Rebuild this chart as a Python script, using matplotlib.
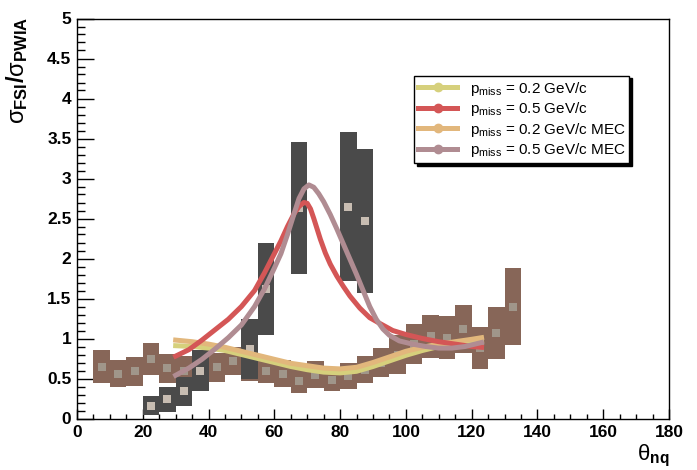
import matplotlib
matplotlib.use("Agg")
import matplotlib.pyplot as plt
from matplotlib.lines import Line2D
from matplotlib.ticker import MultipleLocator

plt.rcParams["font.family"] = ["Liberation Sans", "DejaVu Sans"]
plt.rcParams["mathtext.fontset"] = "custom"
plt.rcParams["mathtext.rm"] = "Liberation Sans"
plt.rcParams["mathtext.it"] = "Liberation Sans:italic"
plt.rcParams["mathtext.bf"] = "Liberation Sans:bold"

# Data set 1 (brown boxes): 5-degree bins
brown_theta = [7.5, 12.5, 17.5, 22.5, 27.5, 32.5, 37.5, 42.5, 47.5, 52.5,
               57.5, 62.5, 67.5, 72.5, 77.5, 82.5, 87.5, 92.5, 97.5, 102.5,
               107.5, 112.5, 117.5, 122.5, 127.5, 132.5]
brown_ratio = [0.65, 0.56, 0.59, 0.74, 0.63, 0.60, 0.62, 0.64, 0.72, 0.65,
               0.60, 0.56, 0.47, 0.55, 0.48, 0.53, 0.61, 0.70, 0.80, 0.93,
               1.03, 1.01, 1.12, 0.88, 1.07, 1.40]
brown_err = [0.21, 0.17, 0.18, 0.20, 0.18, 0.18, 0.18, 0.18, 0.18, 0.18,
             0.16, 0.17, 0.15, 0.17, 0.14, 0.16, 0.17, 0.18, 0.24, 0.25,
             0.27, 0.27, 0.30, 0.26, 0.33, 0.48]

# Data set 2 (dark boxes)
dark_theta = [22.5, 27.5, 32.5, 37.5, 52.5, 57.5, 67.5, 82.5, 87.5]
dark_ratio = [0.16, 0.24, 0.34, 0.60, 0.87, 1.62, 2.63, 2.65, 2.47]
dark_err = [0.12, 0.16, 0.18, 0.26, 0.38, 0.58, 0.82, 0.93, 0.90]

# Calculations
red_theta = [30, 34, 38, 42, 46, 50, 54, 57, 60, 62, 64, 66, 67.5, 69, 70,
             71, 72, 73, 74, 75.5, 77, 79, 81, 83, 86, 89, 92, 96, 100, 105,
             110, 115, 120, 123]
red_ratio = [0.78, 0.86, 0.98, 1.11, 1.24, 1.40, 1.60, 1.82, 2.06, 2.22, 2.40,
             2.56, 2.65, 2.70, 2.69, 2.62, 2.50, 2.37, 2.24, 2.07, 1.93, 1.78,
             1.65, 1.53, 1.38, 1.26, 1.19, 1.10, 1.05, 1.00, 0.96, 0.93, 0.90,
             0.89]

mauve_theta = [30, 34, 38, 42, 46, 50, 54, 57, 60, 62, 64, 66, 67.5, 69, 70.5,
               72, 73.5, 75, 77, 79, 81, 83, 85, 87, 89, 91, 93, 95, 98, 102,
               106, 110, 114, 118, 121, 123]
mauve_ratio = [0.54, 0.63, 0.74, 0.87, 1.01, 1.17, 1.40, 1.62, 1.88, 2.06,
               2.30, 2.56, 2.75, 2.87, 2.92, 2.89, 2.81, 2.71, 2.55, 2.37,
               2.18, 1.99, 1.80, 1.60, 1.40, 1.24, 1.12, 1.04, 0.97, 0.93,
               0.90, 0.88, 0.88, 0.90, 0.93, 0.95]

low_theta = [30, 35, 40, 45, 50, 55, 60, 65, 70, 75, 80, 85, 90, 95, 100,
             105, 110, 115, 120, 123]
yellow_ratio = [0.91, 0.90, 0.88, 0.85, 0.80, 0.75, 0.70, 0.65, 0.61, 0.58,
                0.57, 0.59, 0.65, 0.72, 0.79, 0.85, 0.90, 0.93, 0.96, 0.97]
orange_ratio = [0.98, 0.96, 0.93, 0.89, 0.84, 0.79, 0.74, 0.69, 0.66, 0.63,
                0.62, 0.64, 0.70, 0.77, 0.84, 0.89, 0.93, 0.96, 0.99, 1.01]

x_ticks = [0, 20, 40, 60, 80, 100, 120, 140, 160, 180]
y_ticks = [0, 0.5, 1, 1.5, 2, 2.5, 3, 3.5, 4, 4.5, 5]
y_tick_labels = ["0", "0.5", "1", "1.5", "2", "2.5", "3", "3.5", "4", "4.5", "5"]

BROWN = "#876658"
BROWN_MARK = "#a0968a"
DARK = "#4a4a4a"
DARK_MARK = "#c8bdb2"
YELLOW = "#d6d07c"
RED = "#d45656"
ORANGE = "#e2b77c"
MAUVE = "#b08c92"

fig = plt.figure(figsize=(6.97, 4.70), dpi=100)
ax = fig.add_axes([77 / 697, 51.5 / 470, 592 / 697, 400 / 470])

# brown boxes + markers
lo = [v - e for v, e in zip(brown_ratio, brown_err)]
ax.bar(brown_theta, [2 * e for e in brown_err], bottom=lo, width=5,
       color=BROWN, linewidth=0, zorder=2)
ax.plot(brown_theta, brown_ratio, "s", color=BROWN_MARK, ms=6, mew=0, zorder=3)

# dark boxes + markers
lo = [v - e for v, e in zip(dark_ratio, dark_err)]
ax.bar(dark_theta, [2 * e for e in dark_err], bottom=lo, width=5,
       color=DARK, linewidth=0, zorder=4)
ax.plot(dark_theta, dark_ratio, "s", color=DARK_MARK, ms=6, mew=0, zorder=5)

# curves
lw = 3.6
ax.plot(low_theta, yellow_ratio, color=YELLOW, lw=lw, zorder=6,
        solid_joinstyle="round")
ax.plot(red_theta, red_ratio, color=RED, lw=lw, zorder=7, solid_joinstyle="round")
ax.plot(low_theta, orange_ratio, color=ORANGE, lw=lw, zorder=6,
        solid_joinstyle="round")
ax.plot(mauve_theta, mauve_ratio, color=MAUVE, lw=lw, zorder=8,
        solid_joinstyle="round")

ax.set_xlim(0, 180)
ax.set_ylim(0, 5)
ax.set_xticks(x_ticks)
ax.set_xticklabels([str(t) for t in x_ticks])
ax.set_yticks(y_ticks)
ax.set_yticklabels(y_tick_labels)
ax.xaxis.set_minor_locator(MultipleLocator(5))
ax.yaxis.set_minor_locator(MultipleLocator(0.1))
ax.tick_params(which="both", direction="in", top=False, right=False,
               width=1.0, labelsize=12.5)
ax.tick_params(axis="x", which="major", length=7.2, pad=5)
ax.tick_params(axis="x", which="minor", length=3.6)
ax.tick_params(axis="y", which="major", length=12, pad=4)
ax.tick_params(axis="y", which="minor", length=5.8)
for lab in ax.get_xticklabels() + ax.get_yticklabels():
    lab.set_fontweight("bold")
for sp in ax.spines.values():
    sp.set_linewidth(1.0)

ax.set_ylabel(r"σ$_{\mathbf{FSI}}$$\mathbf{/}$σ$_{\mathbf{PWIA}}$",
              fontsize=17, loc="top")
ax.yaxis.set_label_coords(-0.079, 1.005)
ax.set_xlabel(r"θ$_{\mathbf{nq}}$", fontsize=16, loc="right")
ax.xaxis.set_label_coords(1.0, -0.062)

handles = [
    Line2D([], [], color=YELLOW, lw=lw, marker="o", ms=6),
    Line2D([], [], color=RED, lw=lw, marker="o", ms=6),
    Line2D([], [], color=ORANGE, lw=lw, marker="o", ms=6),
    Line2D([], [], color=MAUVE, lw=lw, marker="o", ms=6),
]
labels = [
    r"p$_{\mathrm{miss}}$ = 0.2 GeV/c",
    r"p$_{\mathrm{miss}}$ = 0.5 GeV/c",
    r"p$_{\mathrm{miss}}$ = 0.2 GeV/c MEC",
    r"p$_{\mathrm{miss}}$ = 0.5 GeV/c MEC",
]
leg = ax.legend(handles, labels, loc="upper left", bbox_to_anchor=(0.569, 0.857),
                borderaxespad=0, fontsize=11, numpoints=1, handlelength=2.6,
                handletextpad=0.8, labelspacing=0.17, borderpad=0.25,
                fancybox=False, framealpha=1, edgecolor="black",
                shadow={"color": "black", "alpha": 1})
leg.get_frame().set_linewidth(1.0)
leg.set_zorder(10)

fig.savefig("out.png", dpi=100, facecolor="white")
